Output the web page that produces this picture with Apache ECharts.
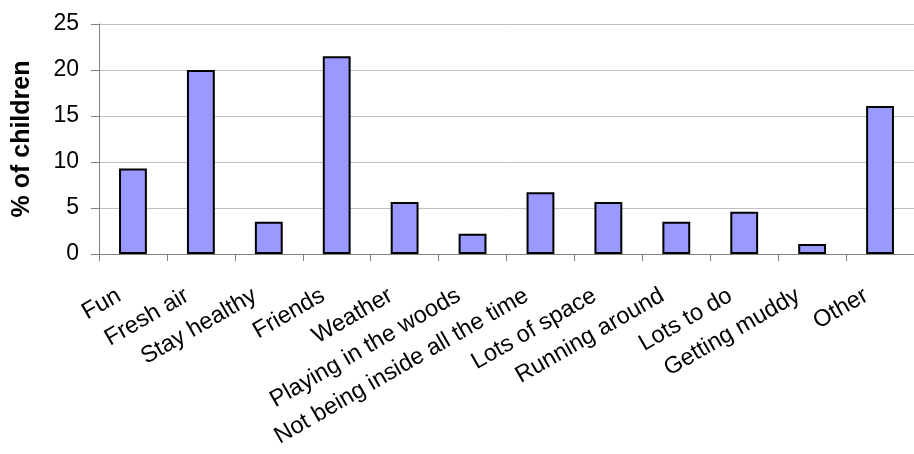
<!DOCTYPE html>
<html><head><meta charset="utf-8">
<script src="https://cdn.jsdelivr.net/npm/echarts@6/dist/echarts.min.js"></script>
<style>html,body{margin:0;padding:0;background:#fff}#c{width:914px;height:454px}</style>
</head><body><div id="c"></div>
<script>
const categories = ["Fun","Fresh air","Stay healthy","Friends","Weather","Playing in the woods","Not being inside all the time","Lots of space","Running around","Lots to do","Getting muddy","Other"];
const values = [9.3, 20, 3.5, 21.5, 5.65, 2.2, 6.7, 5.65, 3.5, 4.6, 1.1, 16.1];
const yTicks = [0, 5, 10, 15, 20, 25];
const yTitle = "% of children";

const chart = echarts.init(document.getElementById('c'));
chart.setOption({
  animation: false,
  backgroundColor: '#fff',
  grid: {left: 99, right: -6, top: 24, bottom: 200, containLabel: false},
  xAxis: {
    type: 'category', data: categories,
    axisLine: {lineStyle: {color: '#808080', width: 1}},
    axisTick: {show: true, alignWithLabel: false, length: 7, lineStyle: {color: '#808080'}},
    axisLabel: {rotate: 30, interval: 0, margin: 32, padding: [0, 16, 0, 0], color: '#000', fontSize: 23.5, fontFamily: 'Liberation Sans, Arial, sans-serif'}
  },
  yAxis: {
    type: 'value', min: yTicks[0], max: yTicks[yTicks.length-1], interval: 5,
    name: yTitle, nameLocation: 'middle', nameGap: 64, nameRotate: 90,
    nameTextStyle: {fontSize: 25, fontWeight: 'bold', color: '#000', fontFamily: 'Liberation Sans, Arial, sans-serif'},
    axisLine: {show: true, lineStyle: {color: '#808080'}},
    axisTick: {show: true, length: 8, inside: false, lineStyle: {color: '#808080'}},
    axisLabel: {margin: 20, color: '#000', fontSize: 23, fontFamily: 'Liberation Sans, Arial, sans-serif'},
    splitLine: {show: true, lineStyle: {color: '#c0c0c0', width: 1}}
  },
  series: [{
    type: 'bar', data: values, barWidth: '41%',
    itemStyle: {color: '#9999FF', borderColor: '#000', borderWidth: 2}
  }]
});
</script></body></html>
